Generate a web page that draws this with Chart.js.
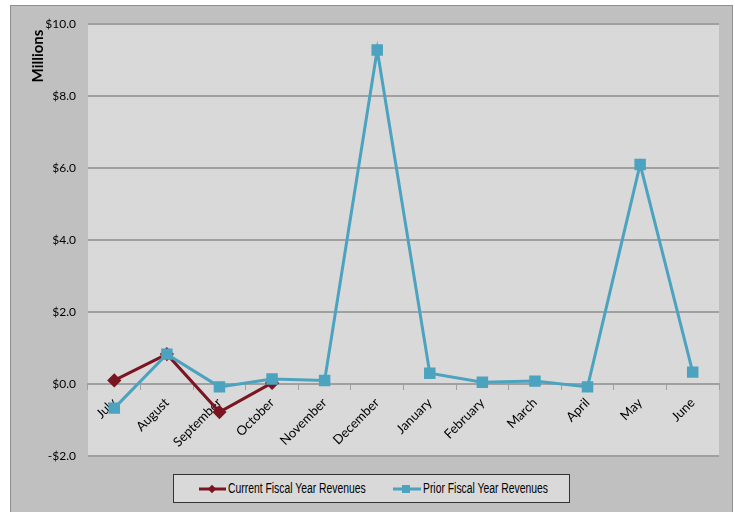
<!DOCTYPE html>
<html>
<head>
<meta charset="UTF-8">
<style>
  body { margin:0; background:#fff; }
  #frame { position:absolute; left:10px; top:5px; width:721px; height:510px; background:#c0c0c0; border:1px solid #8f8f8f; }
  #wrap { position:absolute; left:0; top:0; width:735px; height:512px; }
  #legend { position:absolute; left:173px; top:474px; width:395px; height:27px; background:#d9d9d9; border:1px solid #333;
            font-family:"Liberation Sans",sans-serif; font-size:14px; color:#000; }
  .item { position:absolute; top:6px; white-space:nowrap; line-height:16px; }
  .item svg { position:absolute; top:1px; }
  .item span { position:absolute; top:-1px; transform:scaleX(0.74); transform-origin:0 50%; }
</style>
</head>
<body>
<div id="frame"></div>
<div id="wrap"><canvas id="rev" width="735" height="512"></canvas></div>
<div id="legend">
  <div class="item" style="left:24px"><svg width="30" height="14" style="left:0"><line x1="1" y1="7" x2="28" y2="7" stroke="#7b1522" stroke-width="3"/><rect x="11" y="4" width="6" height="6" fill="#7b1522" transform="rotate(45 14 7)"/></svg><span style="left:30px">Current Fiscal Year Revenues</span></div>
  <div class="item" style="left:218px"><svg width="30" height="14" style="left:0"><line x1="1" y1="7" x2="29" y2="7" stroke="#4ba3bf" stroke-width="3"/><rect x="10" y="3" width="8" height="8" fill="#4ba3bf"/></svg><span style="left:31px">Prior Fiscal Year Revenues</span></div>
</div>
<script src="https://cdn.jsdelivr.net/npm/chart.js@4.4.0/dist/chart.umd.min.js"></script>
<script>
  const months = ['July', 'August', 'September', 'October', 'November', 'December',
                  'January', 'February', 'March', 'April', 'May', 'June'];
  // millions of dollars
  const currentRevenues = [0.1, 0.83, -0.78, 0.03, null, null, null, null, null, null, null, null];
  const priorRevenues = [-0.67, 0.83, -0.08, 0.14, 0.1, 9.28, 0.3, 0.05, 0.08, -0.08, 6.1, 0.33];
  const yMin = -2, yMax = 10, yStep = 2;

  const plotBg = {
    id: 'plotBg',
    beforeDraw(chart) {
      const a = chart.chartArea, ctx = chart.ctx;
      ctx.save();
      ctx.fillStyle = '#d9d9d9';
      ctx.fillRect(a.left, a.top, a.right - a.left, a.bottom - a.top);
      ctx.restore();
    },
    afterDraw(chart) {
      const ctx = chart.ctx;
      ctx.save();
      ctx.translate(38, 56);
      ctx.rotate(-Math.PI / 2);
      ctx.font = 'bold 15px Lato';
      ctx.fillStyle = '#000';
      ctx.textAlign = 'center';
      ctx.textBaseline = 'middle';
      ctx.fillText('Millions', 0, 0);
      ctx.restore();
    }
  };

  new Chart(document.getElementById('rev'), {
    type: 'line',
    data: {
      labels: months,
      datasets: [{
        label: 'Current Fiscal Year Revenues',
        data: currentRevenues,
        borderColor: '#7b1522',
        backgroundColor: '#7b1522',
        borderWidth: 3,
        pointStyle: 'rectRot',
        pointRadius: 5,
        order: 2
      }, {
        label: 'Prior Fiscal Year Revenues',
        data: priorRevenues,
        borderColor: '#4ba3bf',
        backgroundColor: '#4ba3bf',
        borderWidth: 3,
        pointStyle: 'rect',
        pointRadius: 6,
        order: 1
      }]
    },
    options: {
      responsive: false,
      animation: false,
      layout: { padding: { top: 24, right: 16, bottom: 56, left: 0 } },
      plugins: { legend: { display: false }, tooltip: { enabled: false } },
      scales: {
        x: {
          position: { y: 0 },
          offset: true,
          afterFit: (s) => { s.height = 0; },
          grid: { offset: true, drawOnChartArea: false, drawTicks: true, tickLength: 5, color: '#a0a0a0', lineWidth: 1 },
          border: { display: true, color: '#a0a0a0', width: 2 },
          ticks: { autoSkip: false, minRotation: 45, maxRotation: 45, padding: 6, color: '#000', font: { family: 'Lato', size: 13 } }
        },
        y: {
          min: yMin, max: yMax,
          afterFit: (s) => { s.width = 88; },
          grid: { color: '#a0a0a0', lineWidth: 2, drawTicks: false },
          border: { display: false },
          ticks: { stepSize: yStep, padding: 12, color: '#000', font: { family: 'Lato', size: 12 },
                   callback: (v) => (v < 0 ? '-$' : '$') + Math.abs(v).toFixed(1) }
        }
      }
    },
    plugins: [plotBg]
  });
</script>
</body>
</html>
